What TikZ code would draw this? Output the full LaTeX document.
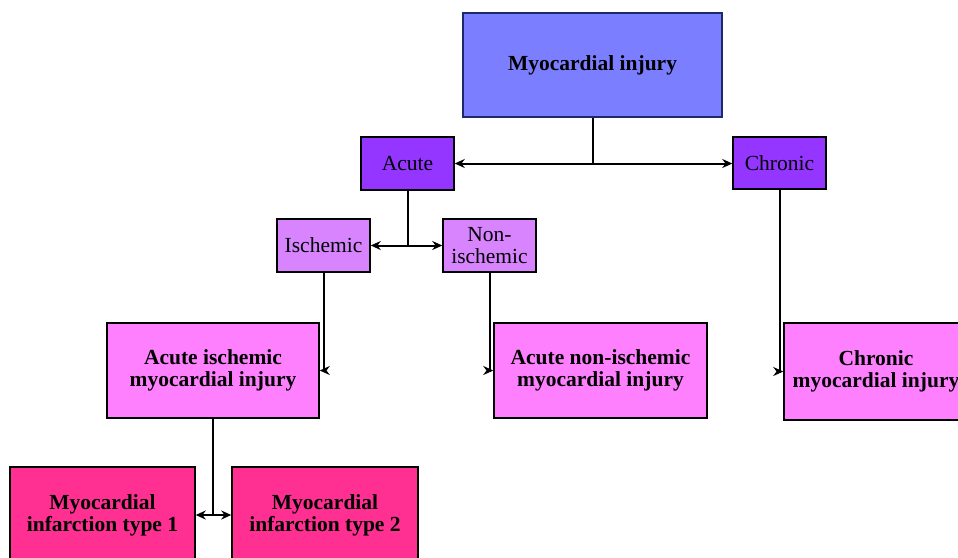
\documentclass[tikz,border=0pt]{standalone}
\usepackage{fontspec}
\setmainfont{Liberation Serif}
\usetikzlibrary{arrows.meta}
\definecolor{topblue}{HTML}{7B7FFF}
\definecolor{topborder}{HTML}{1A2A6C}
\definecolor{violet1}{HTML}{9436FF}
\definecolor{violet2}{HTML}{D884FF}
\definecolor{pink1}{HTML}{FF80FF}
\definecolor{pink2}{HTML}{FF3092}
\begin{document}
\begin{tikzpicture}[x=1pt,y=-1pt,
  box/.style={draw=black,line width=1.5pt,align=center,inner sep=0pt,
    font=\fontsize{21.5}{22}\selectfont},
  boldbox/.style={box,font=\fontsize{21.5}{22}\selectfont\bfseries},
  conn/.style={line width=2pt,-{Stealth[length=10pt,width=9pt]}},
  plain/.style={line width=2pt}]
\useasboundingbox (0,0) rectangle (958,557);
\clip (0,0) rectangle (958,557);
\node[boldbox,fill=topblue,draw=topborder,minimum width=259pt,minimum height=104pt] (top) at (592.5,65) {Myocardial injury};
\node[box,fill=violet1,minimum width=93pt,minimum height=53pt] (acute) at (407.5,163.5) {Acute};
\node[box,fill=violet1,minimum width=93pt,minimum height=52pt] (chronic) at (779.5,163) {Chronic};
\node[box,fill=violet2,minimum width=93pt,minimum height=53pt] (isch) at (323.5,245.5) {Ischemic};
\node[box,fill=violet2,minimum width=93pt,minimum height=53pt] (nonisch) at (489.5,245.5) {Non-\\ischemic};
\node[boldbox,fill=pink1,minimum width=212pt,minimum height=95pt] (aim) at (213,370.5) {Acute ischemic\\myocardial injury};
\node[boldbox,fill=pink1,minimum width=213pt,minimum height=95pt] (anim) at (600.5,370.5) {Acute non-ischemic\\myocardial injury};
\node[boldbox,fill=pink1,minimum width=184pt,minimum height=97pt] (cmi) at (876,371.5) {Chronic\\myocardial injury};
\node[boldbox,fill=pink2,minimum width=185pt,minimum height=96pt] (mi1) at (102.5,515) {Myocardial\\infarction type 1};
\node[boldbox,fill=pink2,minimum width=186pt,minimum height=96pt] (mi2) at (325,515) {Myocardial\\infarction type 2};
% connectors
\coordinate (j1) at (top.south |- acute.east);
\draw[plain] (top.south) -- (j1);
\draw[conn] (j1) -- (acute.east);
\draw[conn] (j1) -- (chronic.west |- j1);
\coordinate (j2) at (acute.south |- isch.east);
\draw[plain] (acute.south) -- (j2);
\draw[conn] (j2) -- (isch.east);
\draw[conn] (j2) -- (nonisch.west);
\draw[conn] (isch.south) |- (aim.east);
\draw[conn] (nonisch.south) |- (anim.west);
\draw[conn] (chronic.south) |- (cmi.west);
\coordinate (j3) at (aim.south |- mi1.east);
\draw[plain] (aim.south) -- (j3);
\draw[conn] (j3) -- (mi1.east);
\draw[conn] (j3) -- (mi2.west);
\end{tikzpicture}
\end{document}
